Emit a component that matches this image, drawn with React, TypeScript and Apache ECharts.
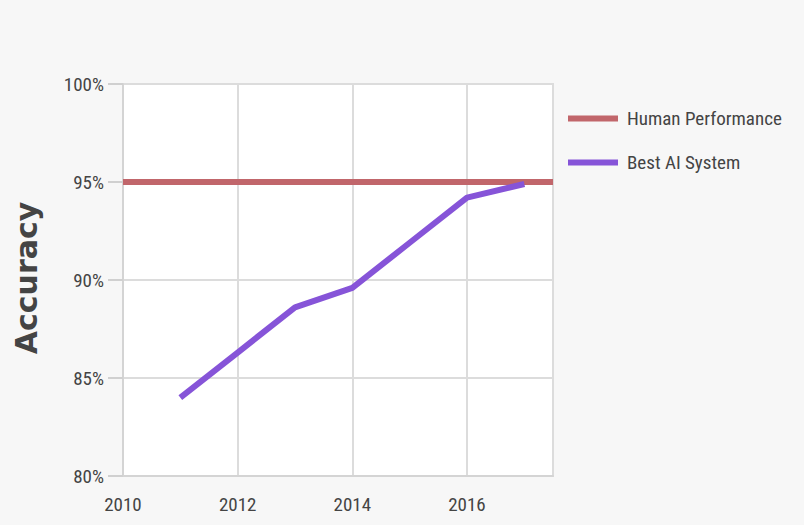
import React, { useEffect, useRef } from "react";
import * as echarts from "echarts";

// Years and accuracy (%) of the best AI system on the benchmark
const years = [2011, 2012, 2013, 2014, 2015, 2016, 2017];
const aiAccuracy = [84.0, 86.3, 88.6, 89.6, 91.9, 94.2, 94.9];

// Human baseline, spanning the full x range
const humanYears = [2010, 2017.5];
const humanAccuracy = [95, 95];

const seriesNames = ["Human Performance", "Best AI System"];
const yTicks = [80, 85, 90, 95, 100];

const FONT = "'Liberation Sans Narrow', 'Roboto Condensed', Roboto, sans-serif";
const TEXT = "#444444";
const GRID_LINE = "#dcdcdc";

export default function App() {
  const ref = useRef<HTMLDivElement>(null);

  useEffect(() => {
    if (!ref.current) return;
    const chart = echarts.init(ref.current, undefined, { renderer: "svg" });

    const option: echarts.EChartsOption = {
      animation: false,
      backgroundColor: "#f7f7f7",
      grid: {
        left: 123,
        right: 251,
        top: 84,
        bottom: 49,
        show: true,
        backgroundColor: "#ffffff",
        borderColor: GRID_LINE,
        borderWidth: 2,
        containLabel: false,
      },
      legend: {
        orient: "vertical",
        left: 568,
        top: 109,
        padding: 0,
        icon: "rect",
        itemWidth: 50,
        itemHeight: 6,
        itemGap: 25,
        data: seriesNames,
        textStyle: {
          fontFamily: FONT,
          fontSize: 19,
          color: TEXT,
          padding: [0, 0, 0, 4],
        },
      },
      graphic: [
        {
          type: "text",
          x: 26,
          y: 278,
          rotation: Math.PI / 2,
          style: {
            text: "Accuracy",
            fontFamily: "'DejaVu Sans', sans-serif",
            fontWeight: "bold",
            fontSize: 30,
            fill: "#444444",
            textAlign: "center",
            textVerticalAlign: "middle",
          },
        },
      ],
      xAxis: {
        type: "value",
        min: 2010,
        max: 2017.5,
        interval: 2,
        axisLine: { show: true, lineStyle: { color: "#d4d4d4", width: 2 } },
        axisTick: { show: false },
        splitLine: { show: true, lineStyle: { color: GRID_LINE, width: 2 } },
        axisLabel: {
          margin: 19,
          fontFamily: FONT,
          fontSize: 19,
          color: TEXT,
          formatter: (v: number) => (v % 2 === 0 ? String(v) : ""),
        },
      },
      yAxis: {
        type: "value",
        min: yTicks[0],
        max: yTicks[yTicks.length - 1],
        interval: 5,
        axisLine: { show: true, lineStyle: { color: "#d4d4d4", width: 2 } },
        axisTick: {
          show: true,
          inside: false,
          length: 15,
          lineStyle: { color: "#d0d0d0", width: 2 },
        },
        splitLine: { show: true, lineStyle: { color: GRID_LINE, width: 2 } },
        axisLabel: {
          margin: 19,
          fontFamily: FONT,
          fontSize: 19,
          color: TEXT,
          formatter: "{value}%",
        },
      },
      series: [
        {
          name: seriesNames[0],
          type: "line",
          showSymbol: false,
          color: "#c1666b",
          lineStyle: { width: 6, color: "#c1666b" },
          data: humanYears.map((y, i) => [y, humanAccuracy[i]]),
          z: 2,
        },
        {
          name: seriesNames[1],
          type: "line",
          showSymbol: false,
          color: "#8654d8",
          lineStyle: { width: 6, color: "#8654d8" },
          data: years.map((y, i) => [y, aiAccuracy[i]]),
          z: 3,
        },
      ],
    };

    chart.setOption(option);
    return () => chart.dispose();
  }, []);

  return (
    <div
      ref={ref}
      style={{ position: "fixed", left: 0, top: 0, width: 804, height: 525 }}
    />
  );
}
